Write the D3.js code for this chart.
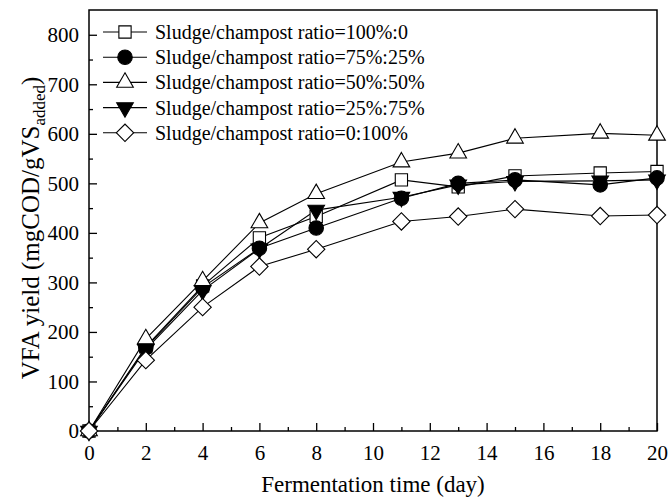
<!DOCTYPE html>
<html>
<head>
<meta charset="utf-8">
<script src="https://cdn.jsdelivr.net/npm/d3@7"></script>
<style>
  body { margin: 0; background: #fff; }
  svg text { font-family: "Liberation Serif", "Times New Roman", Times, serif !important; fill: #000; }
</style>
</head>
<body>
<div class="chart"></div>
<script>
// data
let days = [0, 2, 4, 6, 8, 11, 13, 15, 18, 20]
let names = [
    "Sludge/champost ratio=100%:0",
    "Sludge/champost ratio=75%:25%",
    "Sludge/champost ratio=50%:50%",
    "Sludge/champost ratio=25%:75%",
    "Sludge/champost ratio=0:100%"
]
let ratio100 = [0, 170, 293, 390, 433, 507, 493, 515, 521, 524]
let ratio75 = [0, 168, 290, 369, 410, 470, 500, 507, 497, 511]
let ratio50 = [0, 186, 303, 420, 479, 543, 561, 591, 601, 597]
let ratio25 = [0, 165, 284, 368, 446, 472, 497, 504, 505, 507]
let ratio0 = [0, 143, 250, 332, 367, 423, 433, 448, 434, 436]
let xTicks = [0, 2, 4, 6, 8, 10, 12, 14, 16, 18, 20]
let yTicks = [0, 100, 200, 300, 400, 500, 600, 700, 800]

let series = [ratio100, ratio75, ratio50, ratio25, ratio0]
let symbols = [
    { type: d3.symbolSquare, size: 150, fill: "#fff", rot: 0 },
    { type: d3.symbolCircle, size: 165, fill: "#000", rot: 0 },
    { type: d3.symbolTriangle, size: 120, fill: "#fff", rot: 0 },
    { type: d3.symbolTriangle, size: 120, fill: "#000", rot: 180 },
    { type: d3.symbolSquare, size: 150, fill: "#fff", rot: 45 }
]

let margin = { left: 89, right: 14, top: 10, bottom: 67 }
let width = 671 - margin.left - margin.right
let height = 498 - margin.top - margin.bottom

let svg = d3.select(".chart")
    .append("svg")
    .attr("width", 671)
    .attr("height", 498)
    .attr("font-family", "Liberation Serif")

let g = svg.append("g")
    .attr("transform", "translate(" + margin.left + "," + margin.top + ")")

//scales
let x = d3.scaleLinear().domain([0, 20]).range([0, width])
let y = d3.scaleLinear().domain([0, 850]).range([height, 0])

//frame
g.append("rect")
    .attr("width", width).attr("height", height)
    .attr("fill", "none").attr("stroke", "#000").attr("stroke-width", 1.5)

//Axis
let xAxis = d3.axisBottom(x).tickValues(xTicks).tickSize(-8).tickPadding(14)
g.append("g").attr("transform", "translate(0," + height + ")").call(xAxis)
g.append("g").attr("transform", "translate(0," + height + ")")
    .call(d3.axisBottom(x).tickValues(d3.range(1, 20, 2)).tickSize(-4).tickFormat(""))

let yAxis = d3.axisLeft(y).tickValues(yTicks).tickSize(-8).tickPadding(10)
g.append("g").call(yAxis)
g.append("g").call(d3.axisLeft(y).tickValues(d3.range(50, 850, 100)).tickSize(-4).tickFormat(""))

g.selectAll(".domain").remove()
g.selectAll("g").attr("font-family", null)
g.selectAll(".tick line").attr("stroke", "#000").attr("stroke-width", 1.3)
g.selectAll(".tick text").style("font-size", "21px")

//axis titles
svg.append("text")
    .attr("x", margin.left + width / 2).attr("y", 492)
    .attr("text-anchor", "middle")
    .style("font-size", "23px")
    .text("Fermentation time (day)")

let yt = svg.append("text")
    .attr("transform", "translate(39," + (margin.top + 218) + ") rotate(-90)")
    .attr("text-anchor", "middle")
    .style("font-size", "25px")
yt.append("tspan").text("VFA yield (mgCOD/gVS")
yt.append("tspan").attr("dy", 6).style("font-size", "17px").text("added")
yt.append("tspan").attr("dy", -6).text(")")

//lines and markers
let line = d3.line()
    .x((d, i) => x(days[i]))
    .y(d => y(d))

series.forEach((s, k) => {
    g.append("path")
        .attr("fill", "none")
        .attr("stroke", "#000")
        .attr("stroke-width", 1.1)
        .attr("d", line(s))
})

series.forEach((s, k) => {
    let sym = symbols[k]
    g.selectAll(null)
        .data(s)
        .enter()
        .append("path")
        .attr("d", d3.symbol().type(sym.type).size(sym.size))
        .attr("transform", (d, i) => "translate(" + x(days[i]) + "," + y(d) + ") rotate(" + sym.rot + ")")
        .attr("fill", sym.fill)
        .attr("stroke", "#000")
        .attr("stroke-width", 1.1)
})

//legend
let legend = svg.append("g").attr("transform", "translate(103,32)")
names.forEach((name, k) => {
    let sym = symbols[k]
    let row = legend.append("g").attr("transform", "translate(0," + (k * 25.2) + ")")
    row.append("line").attr("x1", 0).attr("x2", 44).attr("stroke", "#000").attr("stroke-width", 1.1)
    row.append("path")
        .attr("d", d3.symbol().type(sym.type).size(sym.size))
        .attr("transform", "translate(22,0) rotate(" + sym.rot + ")")
        .attr("fill", sym.fill)
        .attr("stroke", "#000")
        .attr("stroke-width", 1.1)
    row.append("text")
        .attr("x", 52).attr("y", 7)
        .style("font-size", "20px")
        .text(name)
})
</script>
</body>
</html>
